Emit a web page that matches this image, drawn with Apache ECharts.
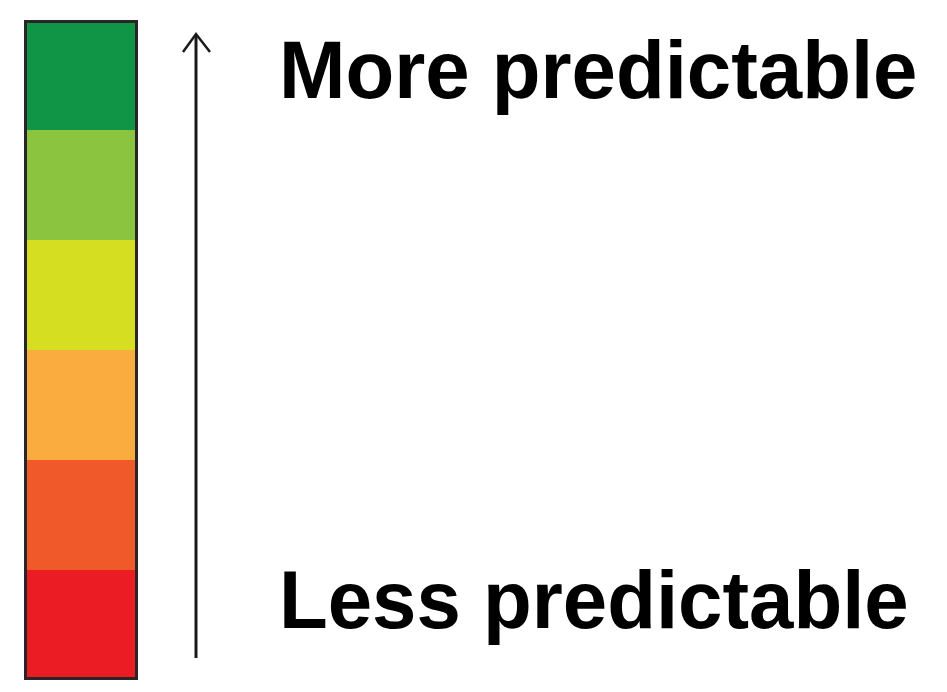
<!DOCTYPE html>
<html>
<head>
<meta charset="utf-8">
<style>html,body{margin:0;padding:0;background:#fff;}#c{width:947px;height:692px;}</style>
<script src="https://cdn.jsdelivr.net/npm/echarts@6/dist/echarts.min.js"></script>
</head>
<body>
<div id="c"></div>
<script>
// Levels from bottom (least predictable) to top (most predictable)
const levels = ['Level 1', 'Level 2', 'Level 3', 'Level 4', 'Level 5', 'Level 6'];
const levelValues = [1, 1, 1, 1, 1, 1];
const levelColors = ['#ec1c24', '#f05a2a', '#fbac3f', '#d6de22', '#8bc43f', '#109446'];
const topLabel = 'More predictable';
const bottomLabel = 'Less predictable';

const chart = echarts.init(document.getElementById('c'));
const series = levels.map((name, i) => ({
  name: name,
  type: 'bar',
  stack: 'scale',
  barWidth: '100%',
  data: [levelValues[i]],
  itemStyle: { color: levelColors[i] },
  silent: true
}));
const total = levelValues.reduce((a, b) => a + b, 0);
series.push({
  name: 'outline',
  type: 'bar',
  barWidth: '100%',
  barGap: '-100%',
  data: [total],
  itemStyle: { color: 'transparent', borderColor: '#2a2526', borderWidth: 3 },
  z: 5,
  silent: true
});

chart.setOption({
  animation: false,
  backgroundColor: '#fff',
  grid: { left: 24, top: 20, width: 114, height: 660 },
  xAxis: { type: 'category', data: ['scale'], show: false },
  yAxis: { type: 'value', min: 0, max: total, show: false },
  series: series,
  graphic: [
    { type: 'line', shape: { x1: 196, y1: 658, x2: 196, y2: 35 }, style: { stroke: '#1a1a1a', lineWidth: 3 } },
    { type: 'polyline', shape: { points: [[183, 52], [196, 34], [210, 52]] }, style: { stroke: '#1a1a1a', lineWidth: 2.5, fill: null } },
    { type: 'text', x: 279, y: 76, scaleX: 0.985, style: { text: topLabel, font: 'bold 81px "Liberation Sans", Arial, sans-serif', fill: '#000', verticalAlign: 'middle', align: 'left' } },
    { type: 'text', x: 279, y: 606, scaleX: 0.985, style: { text: bottomLabel, font: 'bold 81px "Liberation Sans", Arial, sans-serif', fill: '#000', verticalAlign: 'middle', align: 'left' } }
  ]
});
</script>
</body>
</html>
